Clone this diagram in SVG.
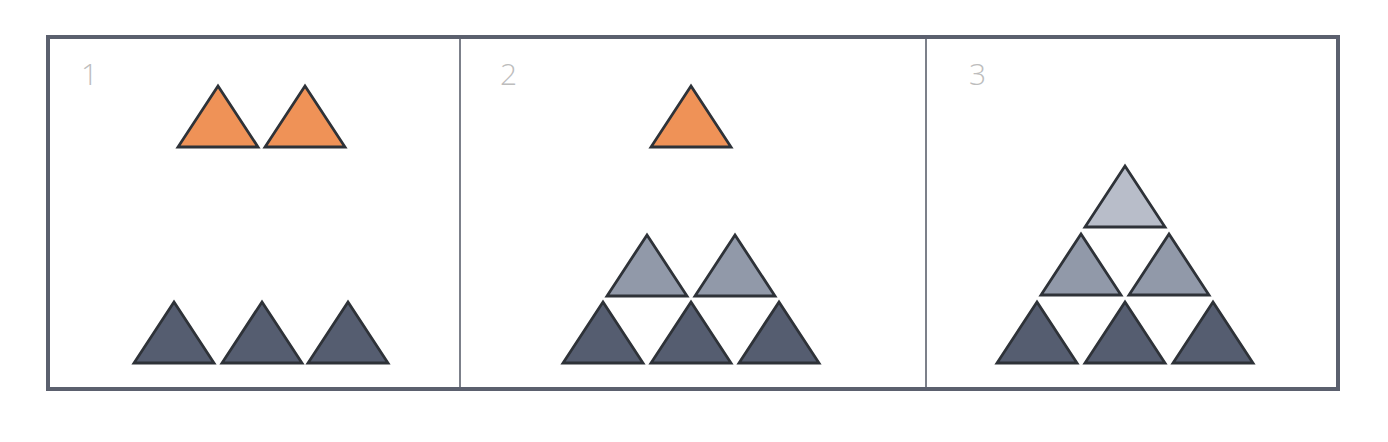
<svg xmlns="http://www.w3.org/2000/svg" width="1388" height="442" viewBox="0 0 1388 442">
<style>
.tri{stroke:#2e3238;stroke-width:2.8;stroke-linejoin:miter}
.o{fill:#ef9257}
.d{fill:#555d70}
.m{fill:#9199a9}
.l{fill:#b8bdc9}
.num{font-family:"Open Sans","Liberation Sans",sans-serif;font-weight:300;font-size:30px;fill:#bdbdbd}
.frame{fill:#fff;stroke:#5b606e;stroke-width:4}
.div{stroke:#7c808a;stroke-width:2}
</style>
<defs>
<polygon id="t" points="0,0 40,61 -40,61"/>
</defs>
<rect width="1388" height="442" fill="#fff"/>
<g id="frame">
<rect class="frame" x="48" y="37" width="1290" height="352"/>
<line class="div" x1="460" y1="39" x2="460" y2="387"/>
<line class="div" x1="926" y1="39" x2="926" y2="387"/>
</g>
<g id="panel1">
<text class="num" x="81" y="85">1</text>
<use href="#t" class="tri o" x="218" y="86"/>
<use href="#t" class="tri o" x="305" y="86"/>
<use href="#t" class="tri d" x="174" y="302"/>
<use href="#t" class="tri d" x="262" y="302"/>
<use href="#t" class="tri d" x="348" y="302"/>
</g>
<g id="panel2">
<text class="num" x="500" y="85">2</text>
<use href="#t" class="tri o" x="691" y="86"/>
<use href="#t" class="tri m" x="647" y="235"/>
<use href="#t" class="tri m" x="735" y="235"/>
<use href="#t" class="tri d" x="603" y="302"/>
<use href="#t" class="tri d" x="691" y="302"/>
<use href="#t" class="tri d" x="779" y="302"/>
</g>
<g id="panel3">
<text class="num" x="969" y="85">3</text>
<use href="#t" class="tri l" x="1125" y="166"/>
<use href="#t" class="tri m" x="1081" y="234"/>
<use href="#t" class="tri m" x="1169" y="234"/>
<use href="#t" class="tri d" x="1037" y="302"/>
<use href="#t" class="tri d" x="1125" y="302"/>
<use href="#t" class="tri d" x="1213" y="302"/>
</g>
</svg>
